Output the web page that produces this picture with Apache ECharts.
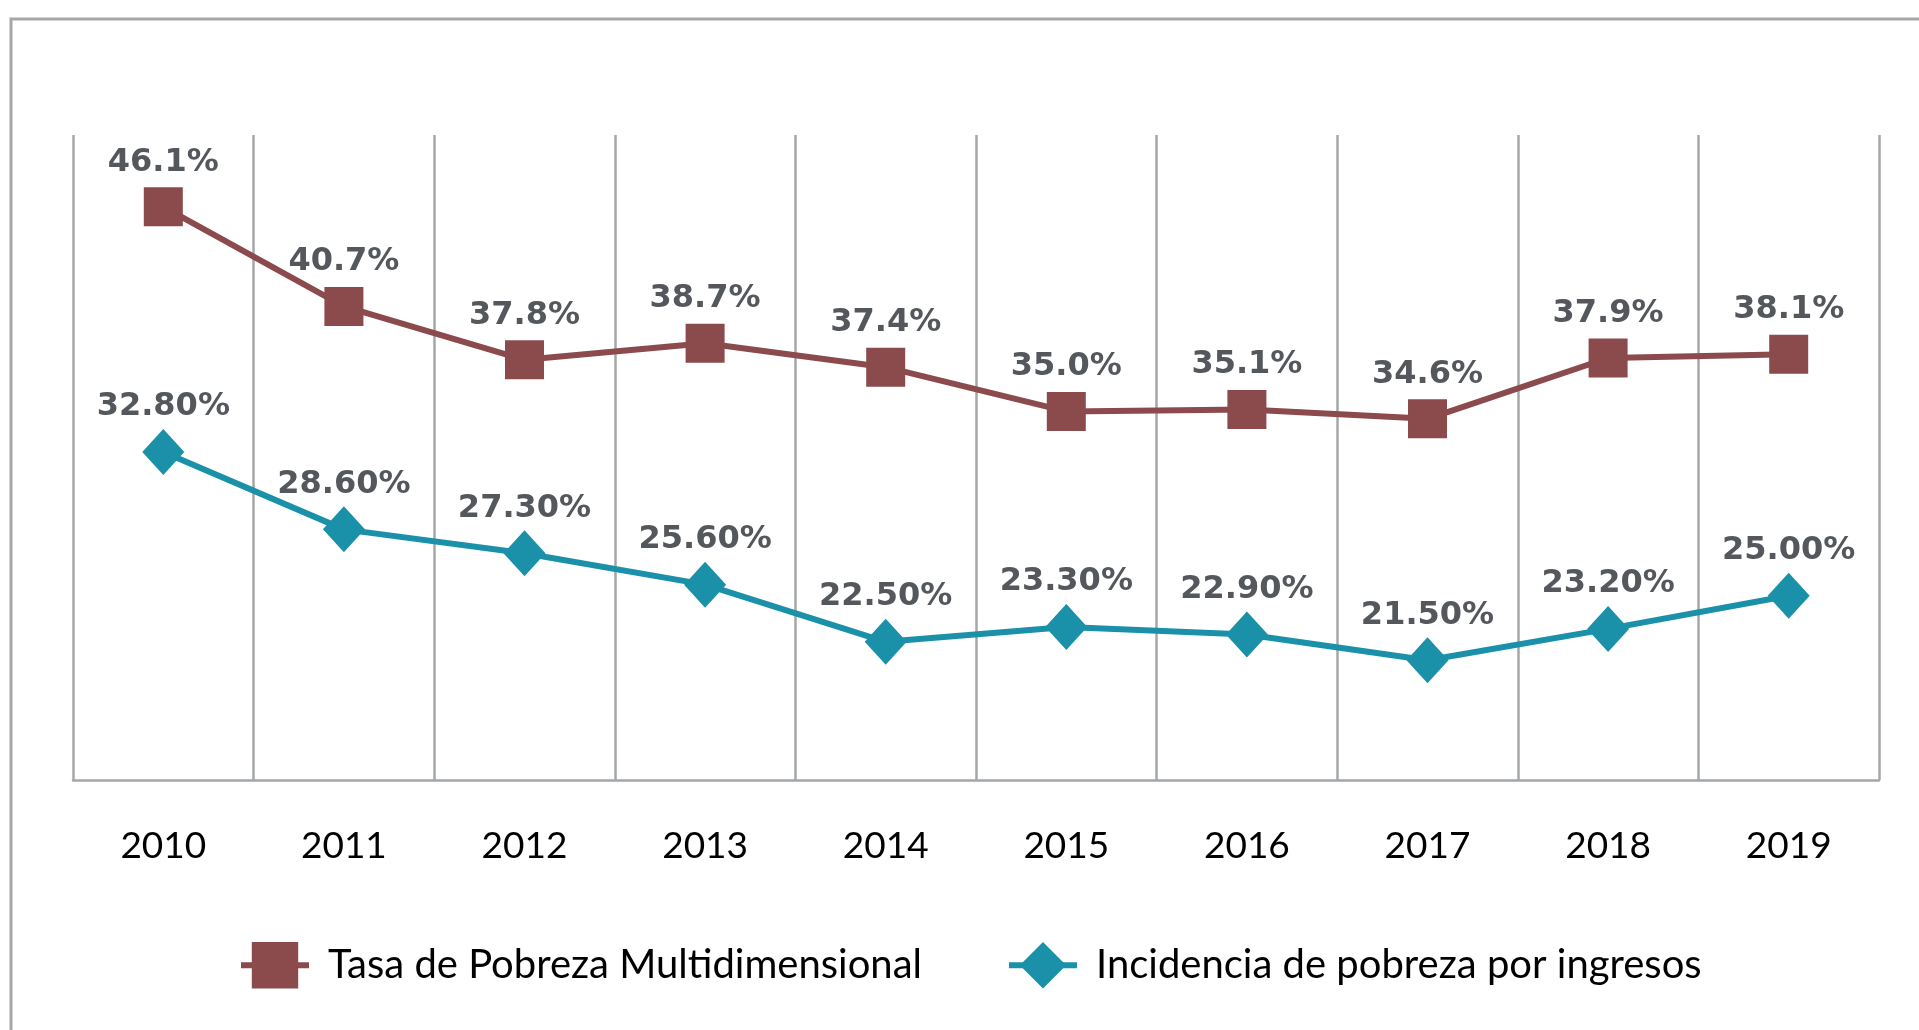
<html lang="es">
  <head>
    <meta charset="UTF-8" />
    <title>Pobreza</title>
    <style>
      html, body { margin: 0; padding: 0; background: #fff; }
      #main { width: 1919px; height: 1030px; }
    </style>
  </head>
  <body>
    <div id="main"></div>

    <script src="https://cdn.jsdelivr.net/npm/echarts@6/dist/echarts.min.js"></script>
    <script>
      // años y series
      let years = ['2010', '2011', '2012', '2013', '2014', '2015', '2016', '2017', '2018', '2019']
      let tasaMulti = [46.1, 40.7, 37.8, 38.7, 37.4, 35.0, 35.1, 34.6, 37.9, 38.1]
      let incidencia = [32.8, 28.6, 27.3, 25.6, 22.5, 23.3, 22.9, 21.5, 23.2, 25.0]
      let seriesNames = ['Tasa de Pobreza Multidimensional', 'Incidencia de pobreza por ingresos']

      let gridColor = '#a4a7aa'
      let labelColor = '#54585c'

      let myChart = echarts.init(document.getElementById('main'))
      let option = {
        animation: false,
        backgroundColor: '#fff',
        graphic: [
          {
            type: 'rect',
            shape: { x: 11, y: 19, width: 2000, height: 2000 },
            style: { fill: 'none', stroke: gridColor, lineWidth: 3 },
            silent: true
          }
        ],
        grid: { left: 73, right: 40, top: 135, bottom: 250 },
        legend: {
          left: 233,
          top: 937,
          itemWidth: 68,
          itemHeight: 58,
          itemGap: 84,
          lineStyle: { width: 6 },
          textStyle: { fontFamily: 'Lato', fontSize: 40, color: '#000', padding: [0, 0, 0, 14] },
          data: seriesNames
        },
        xAxis: {
          type: 'category',
          data: years,
          boundaryGap: true,
          axisLine: { lineStyle: { color: gridColor, width: 2.5 } },
          axisTick: { length: 34, lineStyle: { color: gridColor, width: 2.5 } },
          splitLine: { show: true, lineStyle: { color: gridColor, width: 2.5 } },
          axisLabel: { color: '#000', fontFamily: 'Lato', fontSize: 37, margin: 48 }
        },
        yAxis: {
          type: 'value',
          min: 15,
          max: 50,
          show: false,
          splitLine: { show: false }
        },
        series: [
          {
            name: seriesNames[0],
            type: 'line',
            data: tasaMulti,
            symbol: 'rect',
            symbolSize: 39,
            lineStyle: { color: '#8b4a4c', width: 6 },
            itemStyle: { color: '#8b4a4c' },
            label: {
              show: true,
              position: 'top',
              distance: 9,
              color: labelColor,
              fontFamily: 'DejaVu Sans',
              fontWeight: 'bold',
              fontSize: 32,
              formatter: p => p.value.toFixed(1) + '%'
            }
          },
          {
            name: seriesNames[1],
            type: 'line',
            data: incidencia,
            symbol: 'diamond',
            symbolSize: [42, 46],
            lineStyle: { color: '#1a91a8', width: 6 },
            itemStyle: { color: '#1a91a8' },
            label: {
              show: true,
              position: 'top',
              distance: 6,
              color: labelColor,
              fontFamily: 'DejaVu Sans',
              fontWeight: 'bold',
              fontSize: 32,
              formatter: p => p.value.toFixed(2) + '%'
            }
          }
        ]
      }
      myChart.setOption(option)
    </script>
  </body>
</html>
